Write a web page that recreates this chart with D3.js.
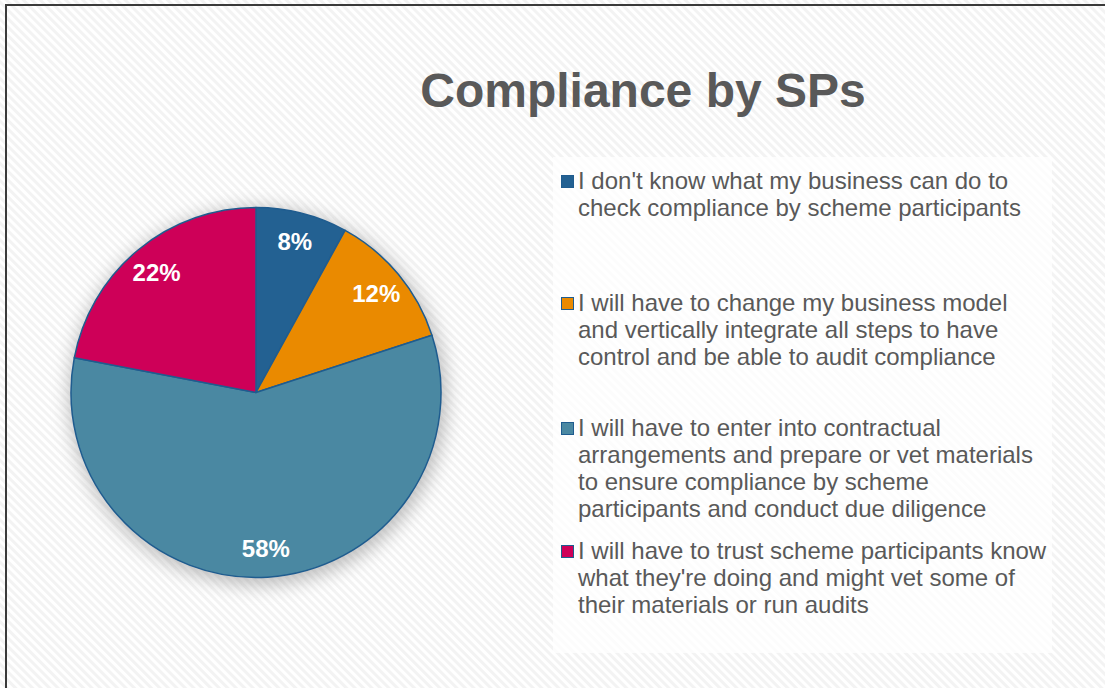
<!DOCTYPE html>
<html>
<head>
<meta charset="utf-8">
<script src="https://cdn.jsdelivr.net/npm/d3@7"></script>
<style>
  html, body { margin: 0; padding: 0; background: #ffffff; }
  svg { display: block; }
  text { font-family: "Liberation Sans", Arial, sans-serif; }
</style>
</head>
<body>
<svg id="chart" width="1105" height="688"></svg>
<script>
const title = "Compliance by SPs";
const categories = [
  "I don't know what my business can do to check compliance by scheme participants",
  "I will have to change my business model and vertically integrate all steps to have control and be able to audit compliance",
  "I will have to enter into contractual arrangements and prepare or vet materials to ensure compliance by scheme participants and conduct due diligence",
  "I will have to trust scheme participants know what they're doing and might vet some of their materials or run audits"
];
const legendLines = [
  ["I don't know what my business can do to", "check compliance by scheme participants"],
  ["I will have to change my business model", "and vertically integrate all steps to have", "control and be able to audit compliance"],
  ["I will have to enter into contractual", "arrangements and prepare or vet materials", "to ensure compliance by scheme", "participants and conduct due diligence"],
  ["I will have to trust scheme participants know", "what they're doing and might vet some of", "their materials or run audits"]
];
const values = [8, 12, 58, 22];
const colors = ["#236192", "#EA8A00", "#4A88A2", "#CE0058"];

const svg = d3.select("#chart");
const W = 1105, H = 688;

// background pattern
const defs = svg.append("defs");
const pat = defs.append("pattern")
  .attr("id", "hatch").attr("patternUnits", "userSpaceOnUse")
  .attr("width", 6).attr("height", 6)
  .attr("patternTransform", "rotate(45)");
pat.append("rect").attr("width", 6).attr("height", 6).attr("fill", "#ffffff");
pat.append("rect").attr("width", 6).attr("height", 3).attr("fill", "#f3f3f3");

const shadow = defs.append("filter").attr("id", "shadow")
  .attr("x", "-30%").attr("y", "-30%").attr("width", "160%").attr("height", "160%");
shadow.append("feGaussianBlur").attr("stdDeviation", 9);

svg.append("rect").attr("x", 0).attr("y", 0).attr("width", W).attr("height", H).attr("fill", "url(#hatch)");
svg.append("rect").attr("x", 6).attr("y", 5).attr("width", W + 20).attr("height", H + 20)
  .attr("fill", "none").attr("stroke", "#3a3a3a").attr("stroke-width", 2);

// title
svg.append("text").attr("x", 643).attr("y", 107).attr("text-anchor", "middle")
  .attr("font-size", 48).attr("font-weight", "bold").attr("fill", "#595959").text(title);

// pie
const cx = 256, cy = 392.5, R = 185;
const g = svg.append("g").attr("transform", `translate(${cx},${cy})`);
g.append("circle").attr("cx", 2).attr("cy", 4).attr("r", R + 4)
  .attr("fill", "#8c8c8c").attr("opacity", 0.55).attr("filter", "url(#shadow)");

const pie = d3.pie().sort(null).value(d => d);
const arcs = pie(values);
const arc = d3.arc().innerRadius(0).outerRadius(R);
const labelArc = d3.arc().innerRadius(156).outerRadius(156);

g.selectAll("path.slice").data(arcs).join("path").attr("class", "slice")
  .attr("d", arc).attr("fill", (d, i) => colors[i])
  .attr("stroke", "#1F5C8F").attr("stroke-width", 1.5).attr("stroke-linejoin", "round");

g.selectAll("text.lbl").data(arcs).join("text").attr("class", "lbl")
  .attr("transform", d => `translate(${labelArc.centroid(d)})`)
  .attr("text-anchor", "middle").attr("dy", "0.36em")
  .attr("font-size", 24).attr("font-weight", "bold").attr("fill", "#ffffff")
  .text(d => d.data + "%");

// legend
svg.append("rect").attr("x", 553).attr("y", 157).attr("width", 499).attr("height", 496)
  .attr("fill", "#ffffff").attr("opacity", 0.75);

const lg = svg.append("g");
const entryY = [189, 311, 436, 559];
const lineH = 27;
legendLines.forEach((lines, i) => {
  lg.append("rect").attr("x", 561.5).attr("y", entryY[i] - 13.5).attr("width", 12).attr("height", 12)
    .attr("fill", colors[i]).attr("stroke", "#1F5C8F").attr("stroke-width", 1);
  const t = lg.append("text").attr("font-size", 24).attr("fill", "#595959");
  lines.forEach((ln, j) => {
    t.append("tspan").attr("x", 578).attr("y", entryY[i] + j * lineH).text(ln);
  });
});
</script>
</body>
</html>
